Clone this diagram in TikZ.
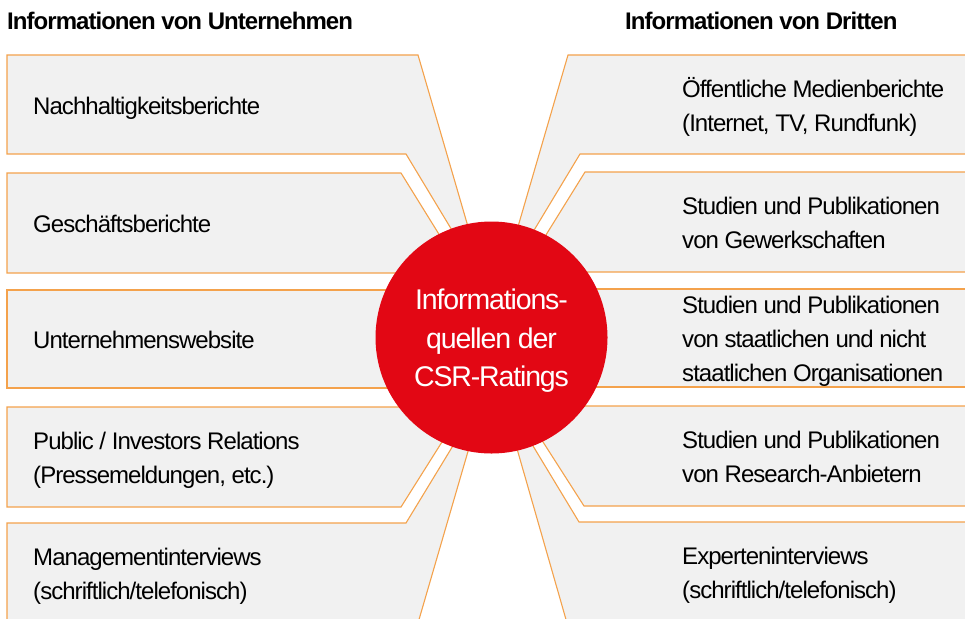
\documentclass[tikz,border=0pt]{standalone}
\usepackage{fontspec}
\setmainfont{Liberation Sans}[LetterSpace=-4.0]
\usepackage{tikz}
\usetikzlibrary{positioning}

\definecolor{rahmen}{RGB}{244,162,76}
\definecolor{kasten}{RGB}{241,241,241}
\definecolor{csrrot}{RGB}{226,7,20}

\begin{document}
\begin{tikzpicture}[%
x={(1pt,0pt)},
y={(0pt,-1pt)},
feld/.style={fill=kasten, draw=rahmen, line width=1.1pt},
eintrag/.style={anchor=west, align=left, inner sep=0pt, font=\fontsize{24}{34}\selectfont},
kopf/.style={anchor=base west, inner sep=0pt, font=\bfseries\fontsize{24}{30}\selectfont},
]

\useasboundingbox (0,0) rectangle (965,618);
\clip (0,0) rectangle (965,618);

\coordinate (M) at (491.5,337.5);

%Felder links
\draw[feld] (7,55) -- (418,55) -- (485,285) -- (406,154) -- (7,154) -- cycle;
\draw[feld] (7,173) -- (401,173) -- (463,273) -- (7,273) -- cycle;
\draw[feld] (7,290) -- (490,290) -- (490,388) -- (7,388) -- cycle;
\draw[feld] (7,407) -- (464,407) -- (401,507) -- (7,507) -- cycle;
\draw[feld] (7,523) -- (406,523) -- (485,393) -- (418,623) -- (7,623) -- cycle;

%Felder rechts
\draw[feld] (979,55) -- (568,55) -- (501,285) -- (580,154) -- (979,154) -- cycle;
\draw[feld] (979,172) -- (585,172) -- (523,272) -- (979,272) -- cycle;
\draw[feld] (979,289) -- (496,289) -- (496,387) -- (979,387) -- cycle;
\draw[feld] (979,406) -- (520,406) -- (584,506) -- (979,506) -- cycle;
\draw[feld] (979,522) -- (579,522) -- (501,393) -- (567,623) -- (979,623) -- cycle;

%Kreis
\node[circle, fill=csrrot, minimum size=232pt, inner sep=0pt] (kreis) at (M) {};
\node[align=center, inner sep=0pt, text=white, font=\fontsize{28.5}{38.5}\selectfont]
  (titel) at ([yshift=-3pt]kreis.center)
  {\strut Informations-\\\strut quellen der\\\strut CSR-Ratings};

%Ueberschriften
\node[kopf] (unternehmen) at (7,30) {Informationen von Unternehmen};
\node[kopf] (dritte) at (625,30) {Informationen von Dritten};

%Texte links
\node[eintrag] (nachhaltigkeit) at (33,107.5) {\strut Nachhaltigkeitsberichte};
\node[eintrag] (geschaeft) at (33,226) {\strut Geschäftsberichte};
\node[eintrag] (website) at (33,342) {\strut Unternehmenswebsite};
\node[eintrag] (relations) at (33,460) {\strut Public / Investors Relations\\\strut (Pressemeldungen, etc.)};
\node[eintrag] (management) at (33,576) {\strut Managementinterviews\\\strut (schriftlich/telefonisch)};

%Texte rechts
\node[eintrag] (medien) at (682,107.5) {\strut Öffentliche Medienberichte\\\strut (Internet, TV, Rundfunk)};
\node[eintrag] (gewerkschaft) at (682,225) {\strut Studien und Publikationen\\\strut von Gewerkschaften};
\node[eintrag] (organisation) at (682,341) {\strut Studien und Publikationen\\\strut von staatlichen und nicht\\\strut staatlichen Organisationen};
\node[eintrag] (research) at (682,459) {\strut Studien und Publikationen\\\strut von Research-Anbietern};
\node[eintrag] (experten) at (682,575) {\strut Experteninterviews\\\strut (schriftlich/telefonisch)};

\end{tikzpicture}
\end{document}
